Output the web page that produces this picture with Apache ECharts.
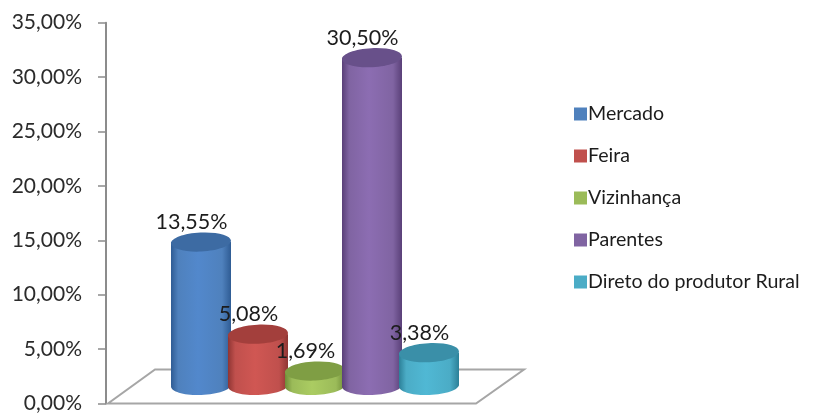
<!DOCTYPE html>
<html><head><meta charset="utf-8">
<style>html,body{margin:0;padding:0;background:#fff}#c{width:830px;height:414px}</style>
<script src="https://cdn.jsdelivr.net/npm/echarts@6/dist/echarts.min.js"></script>
</head><body><div id="c"></div>
<script>
var categories = ['Mercado','Feira','Vizinhança','Parentes','Direto do produtor Rural'];
var values = [13.55,5.08,1.69,30.50,3.38];
var legendColors = ['#4F81BD','#C0504D','#9BBB59','#8064A2','#4BACC6'];
var edgeColors = ['#2F5C94','#8F3533','#6F8C38','#5A4078','#2C8098'];
var lightColors = ['#5288CC','#D05753','#ABCC62','#8C6DB2','#50B8D4'];
var topColors = ['#3D6BA3','#A33F3C','#7F9E44','#68508A','#3A8FA8'];
var yTicksMax = 35, yTickStep = 5;

function fmt(v){return v.toFixed(2).replace('.',',')+'%';}
function bodyGrad(i){
  return {type:'linear',x:0,y:0,x2:1,y2:0,colorStops:[
    {offset:0,color:edgeColors[i]},{offset:0.12,color:legendColors[i]},
    {offset:0.45,color:lightColors[i]},{offset:0.85,color:legendColors[i]},
    {offset:1,color:edgeColors[i]}]};
}
var chart = echarts.init(document.getElementById('c'),null,{renderer:'canvas'});
var series = [{
  type:'custom', silent:true, z:1, clip:false, data:[[0,0]],
  renderItem:function(p,api){
    var o=api.coord([0,0]);
    return {type:'polygon',shape:{points:[[o[0]-93,o[1]],[o[0]+275,o[1]],[o[0]+323,o[1]-34],[o[0]-46,o[1]-34]]},
      style:{fill:'#fff',stroke:'#A6A6A6',lineWidth:2}};
  }
}];
categories.forEach(function(name,i){
  series.push({
    name:name,type:'custom',z:2+i,clip:false,itemStyle:{color:legendColors[i]},
    data:[[i,values[i]]],
    renderItem:function(p,api){
      var c=api.coord([api.value(0),api.value(1)]), z=api.coord([api.value(0),0]);
      var x=c[0], topY=c[1]-14, baseY=z[1]-18, rx=30, ry=9.5;
      return {type:'group',children:[
        {type:'ellipse',shape:{cx:x,cy:baseY,rx:rx,ry:ry},originX:x,originY:baseY,rotation:0.03,style:{fill:bodyGrad(i)}},
        {type:'rect',shape:{x:x-rx,y:topY,width:rx*2,height:baseY-topY},style:{fill:bodyGrad(i)}},
        {type:'ellipse',shape:{cx:x,cy:topY,rx:rx,ry:ry},originX:x,originY:topY,rotation:0.05,style:{fill:topColors[i]}},
        {type:'text',x:x-9.5,y:topY-20,style:{text:fmt(values[i]),font:'21.5px Lato',fill:'#1c1c1c',align:'center',verticalAlign:'middle'}}
      ]};
    }
  });
});
chart.setOption({
  animation:false,backgroundColor:'#fff',
  grid:{left:172.5,width:285,top:22.7,bottom:7.7,containLabel:false},
  xAxis:{type:'category',data:categories,show:false},
  yAxis:{type:'value',min:0,max:yTicksMax,interval:yTickStep,offset:66.5,
    axisLine:{show:true,lineStyle:{color:'#8C8C8C',width:2}},
    axisTick:{show:true,length:8,lineStyle:{color:'#8C8C8C',width:1.5}},
    splitLine:{show:false},
    axisLabel:{formatter:fmt,margin:24,fontFamily:'Lato',fontSize:21,color:'#2b2b2b'}},
  legend:{orient:'vertical',left:569,top:99,icon:'rect',itemWidth:13,itemHeight:13,itemGap:22,
    data:categories,textStyle:{fontFamily:'Lato',fontSize:19.6,color:'#1c1c1c',padding:[0,0,0,-4]}},
  series:series
});
</script></body></html>
